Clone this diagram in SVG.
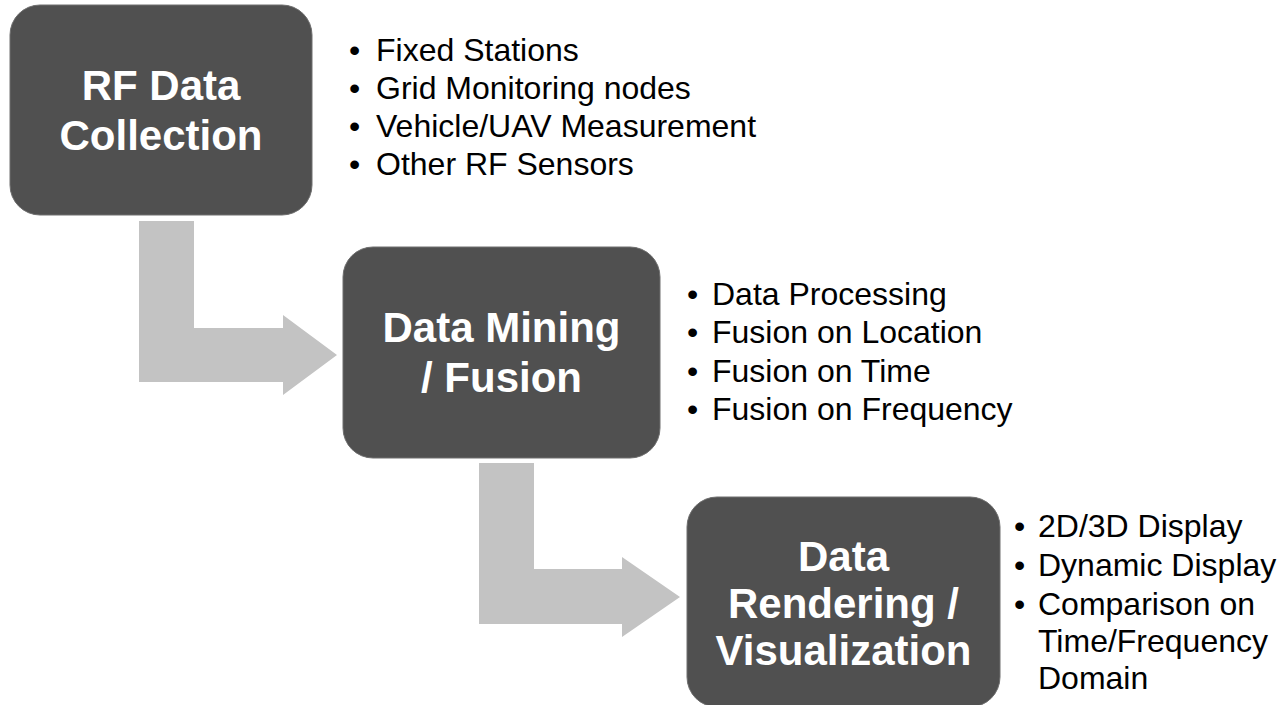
<svg xmlns="http://www.w3.org/2000/svg" width="1287" height="705" viewBox="0 0 1287 705">
<style>
.box{fill:#505050;stroke:#6e6e6e;stroke-width:1}
.arrow{fill:#c3c3c3}
.title{font-family:"Liberation Sans",Arial,sans-serif;font-weight:bold;font-size:42px;fill:#ffffff;text-anchor:middle}
.item{font-family:"Liberation Sans",Arial,sans-serif;font-size:32px;fill:#000000}
</style>
<rect width="1287" height="705" fill="#ffffff"/>
<g id="connectors">
<polygon class="arrow" points="139,221 194,221 194,328 283,328 283,315 337,355 283,395 283,382 139,382"/>
<polygon class="arrow" points="479,463 534,463 534,569 622,569 622,557 680,597 622,637 622,624 479,624"/>
</g>
<g id="node-collection">
<rect class="box" x="10" y="5" width="302" height="210" rx="30" ry="30"/>
<text class="title" x="161" y="100">RF Data</text>
<text class="title" x="161" y="150">Collection</text>
</g>
<g id="list-collection" class="item">
<text x="349" y="61">•</text><text x="376" y="61">Fixed Stations</text>
<text x="349" y="99">•</text><text x="376" y="99">Grid Monitoring nodes</text>
<text x="349" y="137">•</text><text x="376" y="137">Vehicle/UAV Measurement</text>
<text x="349" y="175">•</text><text x="376" y="175">Other RF Sensors</text>
</g>
<g id="node-fusion">
<rect class="box" x="343" y="247" width="317" height="211" rx="30" ry="30"/>
<text class="title" x="501.5" y="342">Data Mining</text>
<text class="title" x="501.5" y="392">/ Fusion</text>
</g>
<g id="list-fusion" class="item">
<text x="687" y="305">•</text><text x="712" y="305">Data Processing</text>
<text x="687" y="343">•</text><text x="712" y="343">Fusion on Location</text>
<text x="687" y="382">•</text><text x="712" y="382">Fusion on Time</text>
<text x="687" y="420">•</text><text x="712" y="420">Fusion on Frequency</text>
</g>
<g id="node-visualization">
<rect class="box" x="687" y="497" width="313" height="210" rx="30" ry="30"/>
<text class="title" x="843.5" y="571">Data</text>
<text class="title" x="843.5" y="618">Rendering /</text>
<text class="title" x="843.5" y="665">Visualization</text>
</g>
<g id="list-visualization" class="item">
<text x="1014" y="537">•</text><text x="1038" y="537">2D/3D Display</text>
<text x="1014" y="576">•</text><text x="1038" y="576">Dynamic Display</text>
<text x="1014" y="615">•</text><text x="1038" y="615">Comparison on</text>
<text x="1038" y="652">Time/Frequency</text>
<text x="1038" y="689">Domain</text>
</g>
</svg>
